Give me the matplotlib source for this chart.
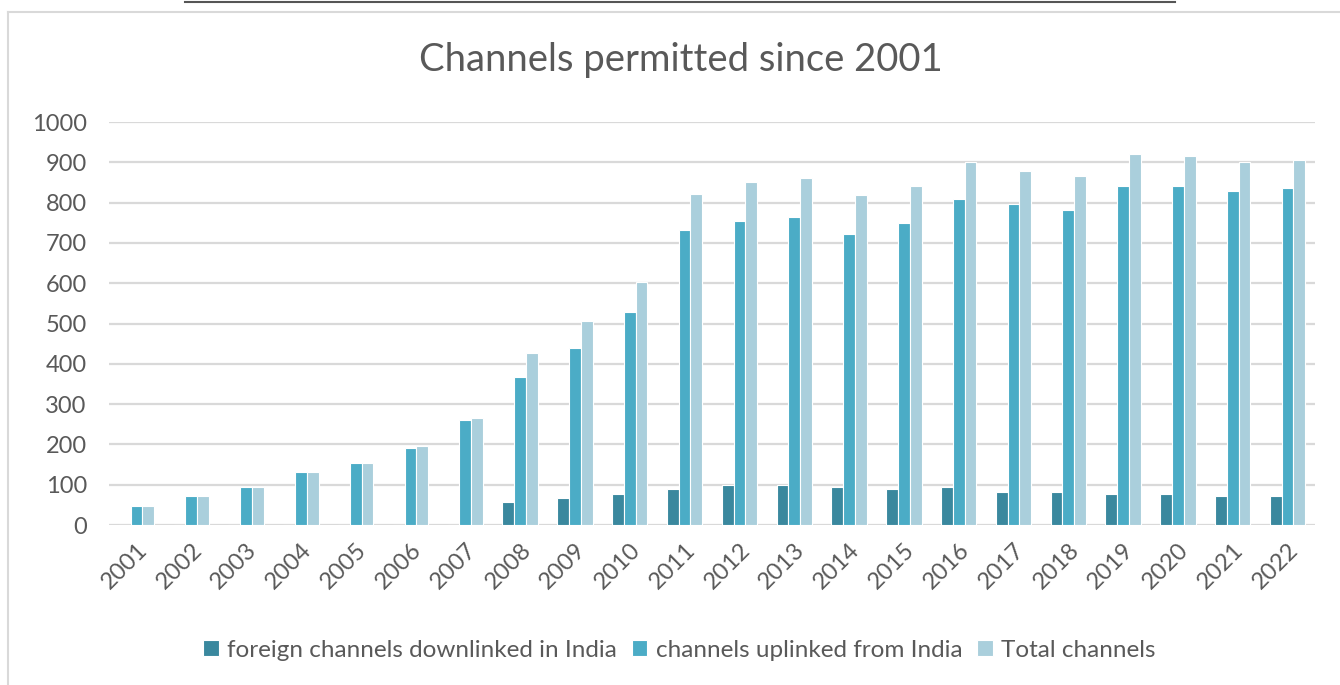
import numpy as np
import matplotlib.pyplot as plt
from matplotlib.lines import Line2D

years = [str(y) for y in range(2001, 2023)]
foreign = [0, 0, 0, 0, 0, 0, 0, 56, 67, 78, 89, 99, 99, 94, 89, 94, 83, 83, 78, 78, 73, 73]
uplinked = [46, 73, 94, 132, 153, 191, 260, 368, 438, 529, 732, 754, 764, 721, 749, 808, 797, 781, 840, 840, 829, 835]
total = [46, 73, 94, 132, 153, 196, 266, 426, 507, 604, 822, 851, 861, 818, 840, 900, 878, 866, 920, 915, 900, 905]

series_names = ['foreign channels downlinked in India', 'channels uplinked from India', 'Total channels']
colors = ['#3A889E', '#4BACC6', '#AACFDC']

plt.rcParams['font.family'] = ['Lato', 'DejaVu Sans']
text_col = '#595959'

fig = plt.figure(figsize=(13.4, 6.85), dpi=100)
ax = fig.add_axes([109 / 1340, 160 / 685, (1315 - 109) / 1340, (525 - 122) / 685])

x = np.arange(len(years))
w = 0.215
for k, (vals, col, name) in enumerate(zip([foreign, uplinked, total], colors, series_names)):
    ax.bar(x + (k - 1) * w, vals, width=w, color=col, edgecolor='white',
           linewidth=0.8, label=name, zorder=3)

ax.set_ylim(0, 1000)
ax.set_xlim(-0.5, len(years) - 0.5)
ax.set_yticks(np.arange(0, 1001, 100))
ax.yaxis.grid(True, color='#D9D9D9', linewidth=1.6, zorder=0)
for s in ax.spines.values():
    s.set_visible(False)
ax.tick_params(length=0, colors=text_col, labelsize=17)
ax.tick_params(axis='y', pad=16)
ax.set_xticks(x)
ax.set_xticklabels(years, rotation=45, ha='right', va='top', rotation_mode='anchor')
ax.tick_params(axis='x', pad=10)

fig.text(0.508, 0.912, 'Channels permitted since 2001', ha='center', va='center',
         fontsize=27.5, color=text_col)

fig.legend(loc='center', bbox_to_anchor=(0.507, 0.051), ncol=3, frameon=False,
           fontsize=17.5, handlelength=0.65, handleheight=0.65, handletextpad=0.35,
           columnspacing=0.6, labelcolor=text_col)

# frame of the screenshot
fig.add_artist(Line2D([8 / 1340, 8 / 1340], [0, 1 - 12 / 685], color='#D9D9D9', lw=1.5))
fig.add_artist(Line2D([8 / 1340, 1], [1 - 12 / 685, 1 - 12 / 685], color='#D9D9D9', lw=1.5))
fig.add_artist(Line2D([185 / 1340, 1175 / 1340], [1 - 2 / 685, 1 - 2 / 685], color='#555555', lw=1.5))

fig.savefig('out.png', dpi=100)
